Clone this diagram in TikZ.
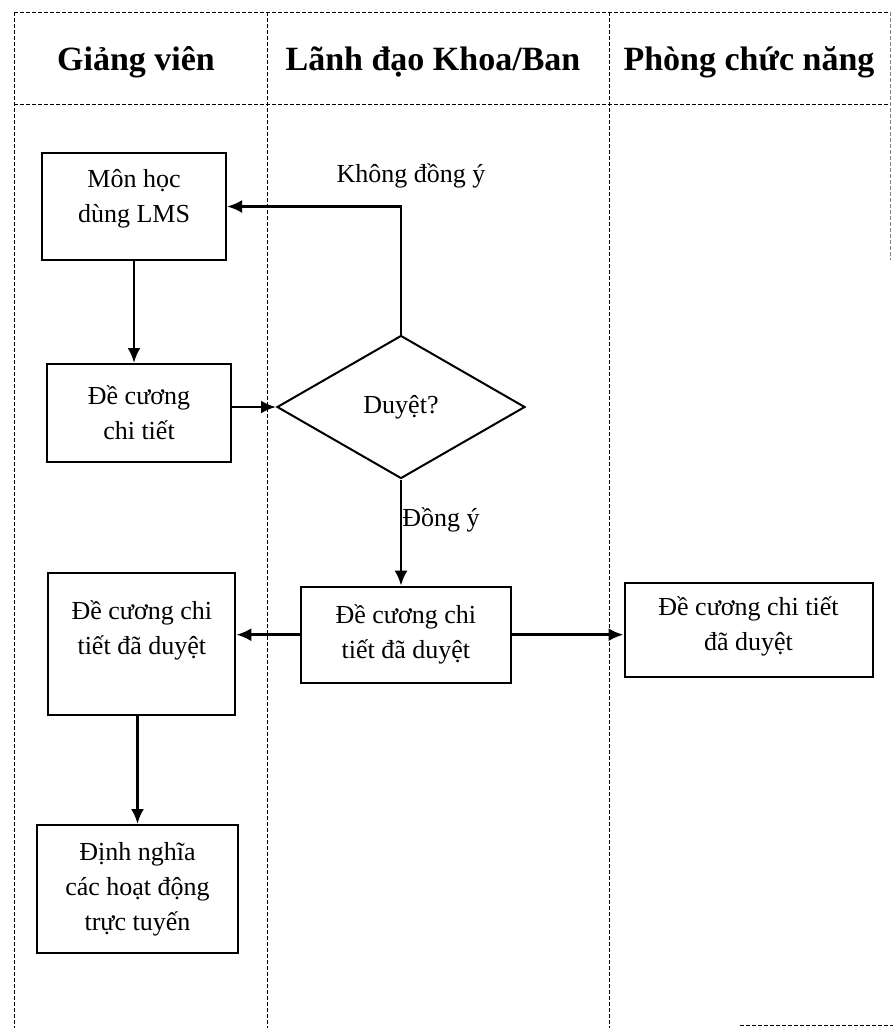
\documentclass[tikz,border=0pt]{standalone}
\usepackage{fontspec}
\setmainfont{Liberation Serif}
\usetikzlibrary{shapes.geometric,arrows.meta}
\begin{document}
\begin{tikzpicture}[x=0.5pt,y=-0.5pt,
        lane/.style={line width=0.5pt,dash pattern=on 2pt off 1pt},
        box/.style={draw,line width=1pt,inner sep=0pt,align=center,font=\fontsize{13}{17.5}\selectfont},
        txt/.style={align=center,font=\fontsize{13}{17.5}\selectfont},
        head/.style={font=\fontsize{17}{20}\selectfont\bfseries},
        arr/.style={line width=1.4pt,-{Latex[length=7.5pt,width=6.5pt]}}]
    \useasboundingbox (0,0) rectangle (893,1028);
    %% swim lanes
    \draw[lane] (14,12) -- (891,12);
    \draw[lane] (14,104) -- (891,104);
    \foreach \x in {14,267,609}
        \draw[lane] (\x,12) -- (\x,1028);
    \draw[lane,gray] (890,12) -- (890,260);
    \draw[lane] (740,1025) -- (893,1025);
    \node[head] (hGV) at (136,62) {Giảng viên};
    \node[head] (hLD) at (433,62) {Lãnh đạo Khoa/Ban};
    \node[head] (hPC) at (749,62) {Phòng chức năng};
    %% boxes
    \node[box,minimum width=92pt,minimum height=53.5pt] (mon) at (134,206.5) {};
    \node[txt] (monT) at (134,199) {Môn học\\dùng LMS};
    \node[box,minimum width=92pt,minimum height=49pt] (de) at (139,413) {Đề cương\\chi tiết};
    \node[draw,diamond,line width=1pt,inner sep=0pt,minimum width=124pt,minimum height=71.5pt,
          font=\fontsize{13}{17.5}\selectfont] (dia) at (401,407) {Duyệt?};
    \node[box,minimum width=93.5pt,minimum height=71pt] (dcL) at (141.8,643.9) {};
    \node[txt] (dcLT) at (141.8,630) {Đề cương chi\\tiết đã duyệt};
    \node[box,minimum width=105pt,minimum height=48pt] (mid) at (405.8,634.7) {Đề cương chi\\tiết đã duyệt};
    \node[box,minimum width=124pt,minimum height=47pt] (dcR) at (748.5,629.9) {};
    \node[txt] (dcRT) at (748.5,626) {Đề cương chi tiết\\đã duyệt};
    \node[box,minimum width=100.5pt,minimum height=64pt] (dn) at (137.5,889) {Định nghĩa\\các hoạt động\\trực tuyến};
    %% arrows
    \draw[arr] (mon.south) -- (mon.south |- de.north);
    \draw[arr] (de.east |- dia.west) -- (dia.west);
    \draw[arr] (dia.north) |- (mon.east);
    \node[txt] (no) at (411,176) {Không đồng ý};
    \draw[arr] (dia.south) -- (dia.south |- mid.north);
    \node[txt] (yes) at (441,520) {Đồng ý};
    \draw[arr] (mid.west) -- (dcL.east |- mid.west);
    \draw[arr] (mid.east) -- (dcR.west |- mid.east);
    \draw[arr] (dcL.south -| dn.north) -- (dn.north);
\end{tikzpicture}
\end{document}
